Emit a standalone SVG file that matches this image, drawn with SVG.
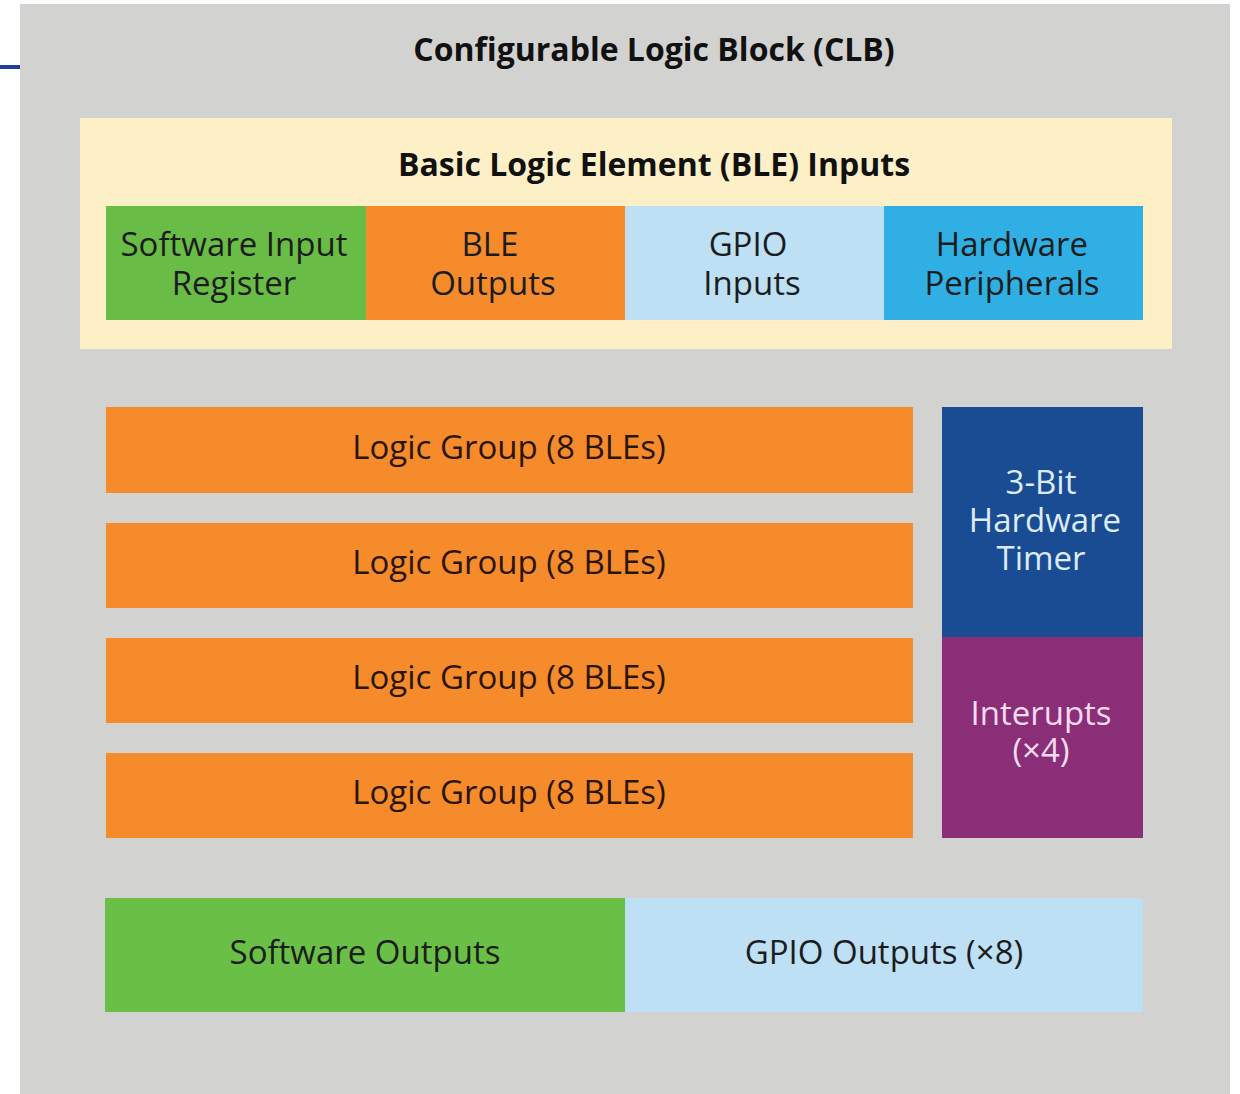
<svg xmlns="http://www.w3.org/2000/svg" width="1240" height="1094" viewBox="0 0 1240 1094">
<style>
  text { font-family: "Open Sans", "Noto Sans", "Liberation Sans", sans-serif; text-anchor: middle; }
  .title { font-size: 32px; font-weight: bold; fill: #111; }
  .lbl { font-size: 33px; fill: #1c1c1c; }
  .lg { font-size: 33px; fill: #2a1505; }
  .light { fill: #dcecf8; }
  .pink { fill: #f6dcef; }
</style>
<rect x="0" y="0" width="1240" height="1094" fill="#ffffff"/>
<rect x="0" y="65" width="22" height="4" fill="#1f3f94"/>
<g id="clb">
  <rect x="20" y="4" width="1210" height="1090" fill="#d2d3d0"/>
  <text class="title" x="654" y="61">Configurable Logic Block (CLB)</text>
</g>
<g id="ble-inputs">
  <rect x="80" y="118" width="1092" height="231" fill="#fdf0c6"/>
  <text class="title" x="654" y="176">Basic Logic Element (BLE) Inputs</text>
</g>
<g id="sw-input">
  <rect x="106" y="206" width="261" height="114" fill="#69bd47"/>
  <text class="lbl" x="234" y="256">Software Input<tspan x="234" dy="39">Register</tspan></text>
</g>
<g id="ble-outputs">
  <rect x="366" y="206" width="260" height="114" fill="#f58b2b"/>
  <text class="lbl" x="490" y="256">BLE<tspan x="493" dy="39">Outputs</tspan></text>
</g>
<g id="gpio-inputs">
  <rect x="625" y="206" width="260" height="114" fill="#bde0f5"/>
  <text class="lbl" x="748" y="256">GPIO<tspan x="752" dy="39">Inputs</tspan></text>
</g>
<g id="hw-periph">
  <rect x="884" y="206" width="259" height="114" fill="#2fafe3"/>
  <text class="lbl" x="1012" y="256">Hardware<tspan x="1012" dy="39">Peripherals</tspan></text>
</g>
<g id="lg1">
  <rect x="106" y="407" width="807" height="86" fill="#f58b2b"/>
  <text class="lg" x="509" y="459">Logic Group (8 BLEs)</text>
</g>
<g id="lg2">
  <rect x="106" y="523" width="807" height="85" fill="#f58b2b"/>
  <text class="lg" x="509" y="574">Logic Group (8 BLEs)</text>
</g>
<g id="lg3">
  <rect x="106" y="638" width="807" height="85" fill="#f58b2b"/>
  <text class="lg" x="509" y="689">Logic Group (8 BLEs)</text>
</g>
<g id="lg4">
  <rect x="106" y="753" width="807" height="85" fill="#f58b2b"/>
  <text class="lg" x="509" y="804">Logic Group (8 BLEs)</text>
</g>
<g id="timer">
  <rect x="942" y="407" width="201" height="231" fill="#1a4c93"/>
  <text class="lbl light" x="1041" y="494">3-Bit<tspan x="1045" dy="38">Hardware</tspan><tspan x="1041" dy="38">Timer</tspan></text>
</g>
<g id="interrupts">
  <rect x="942" y="637" width="201" height="201" fill="#8a2e78"/>
  <text class="lbl pink" x="1041" y="725">Interupts<tspan x="1041" dy="37">(×4)</tspan></text>
</g>
<g id="sw-outputs">
  <rect x="105" y="898" width="521" height="114" fill="#6abf47"/>
  <text class="lbl" x="365" y="964">Software Outputs</text>
</g>
<g id="gpio-outputs">
  <rect x="625" y="898" width="518" height="114" fill="#bde0f5"/>
  <text class="lbl" x="884" y="964">GPIO Outputs (×8)</text>
</g>
<g id="connectors"></g>
</svg>
